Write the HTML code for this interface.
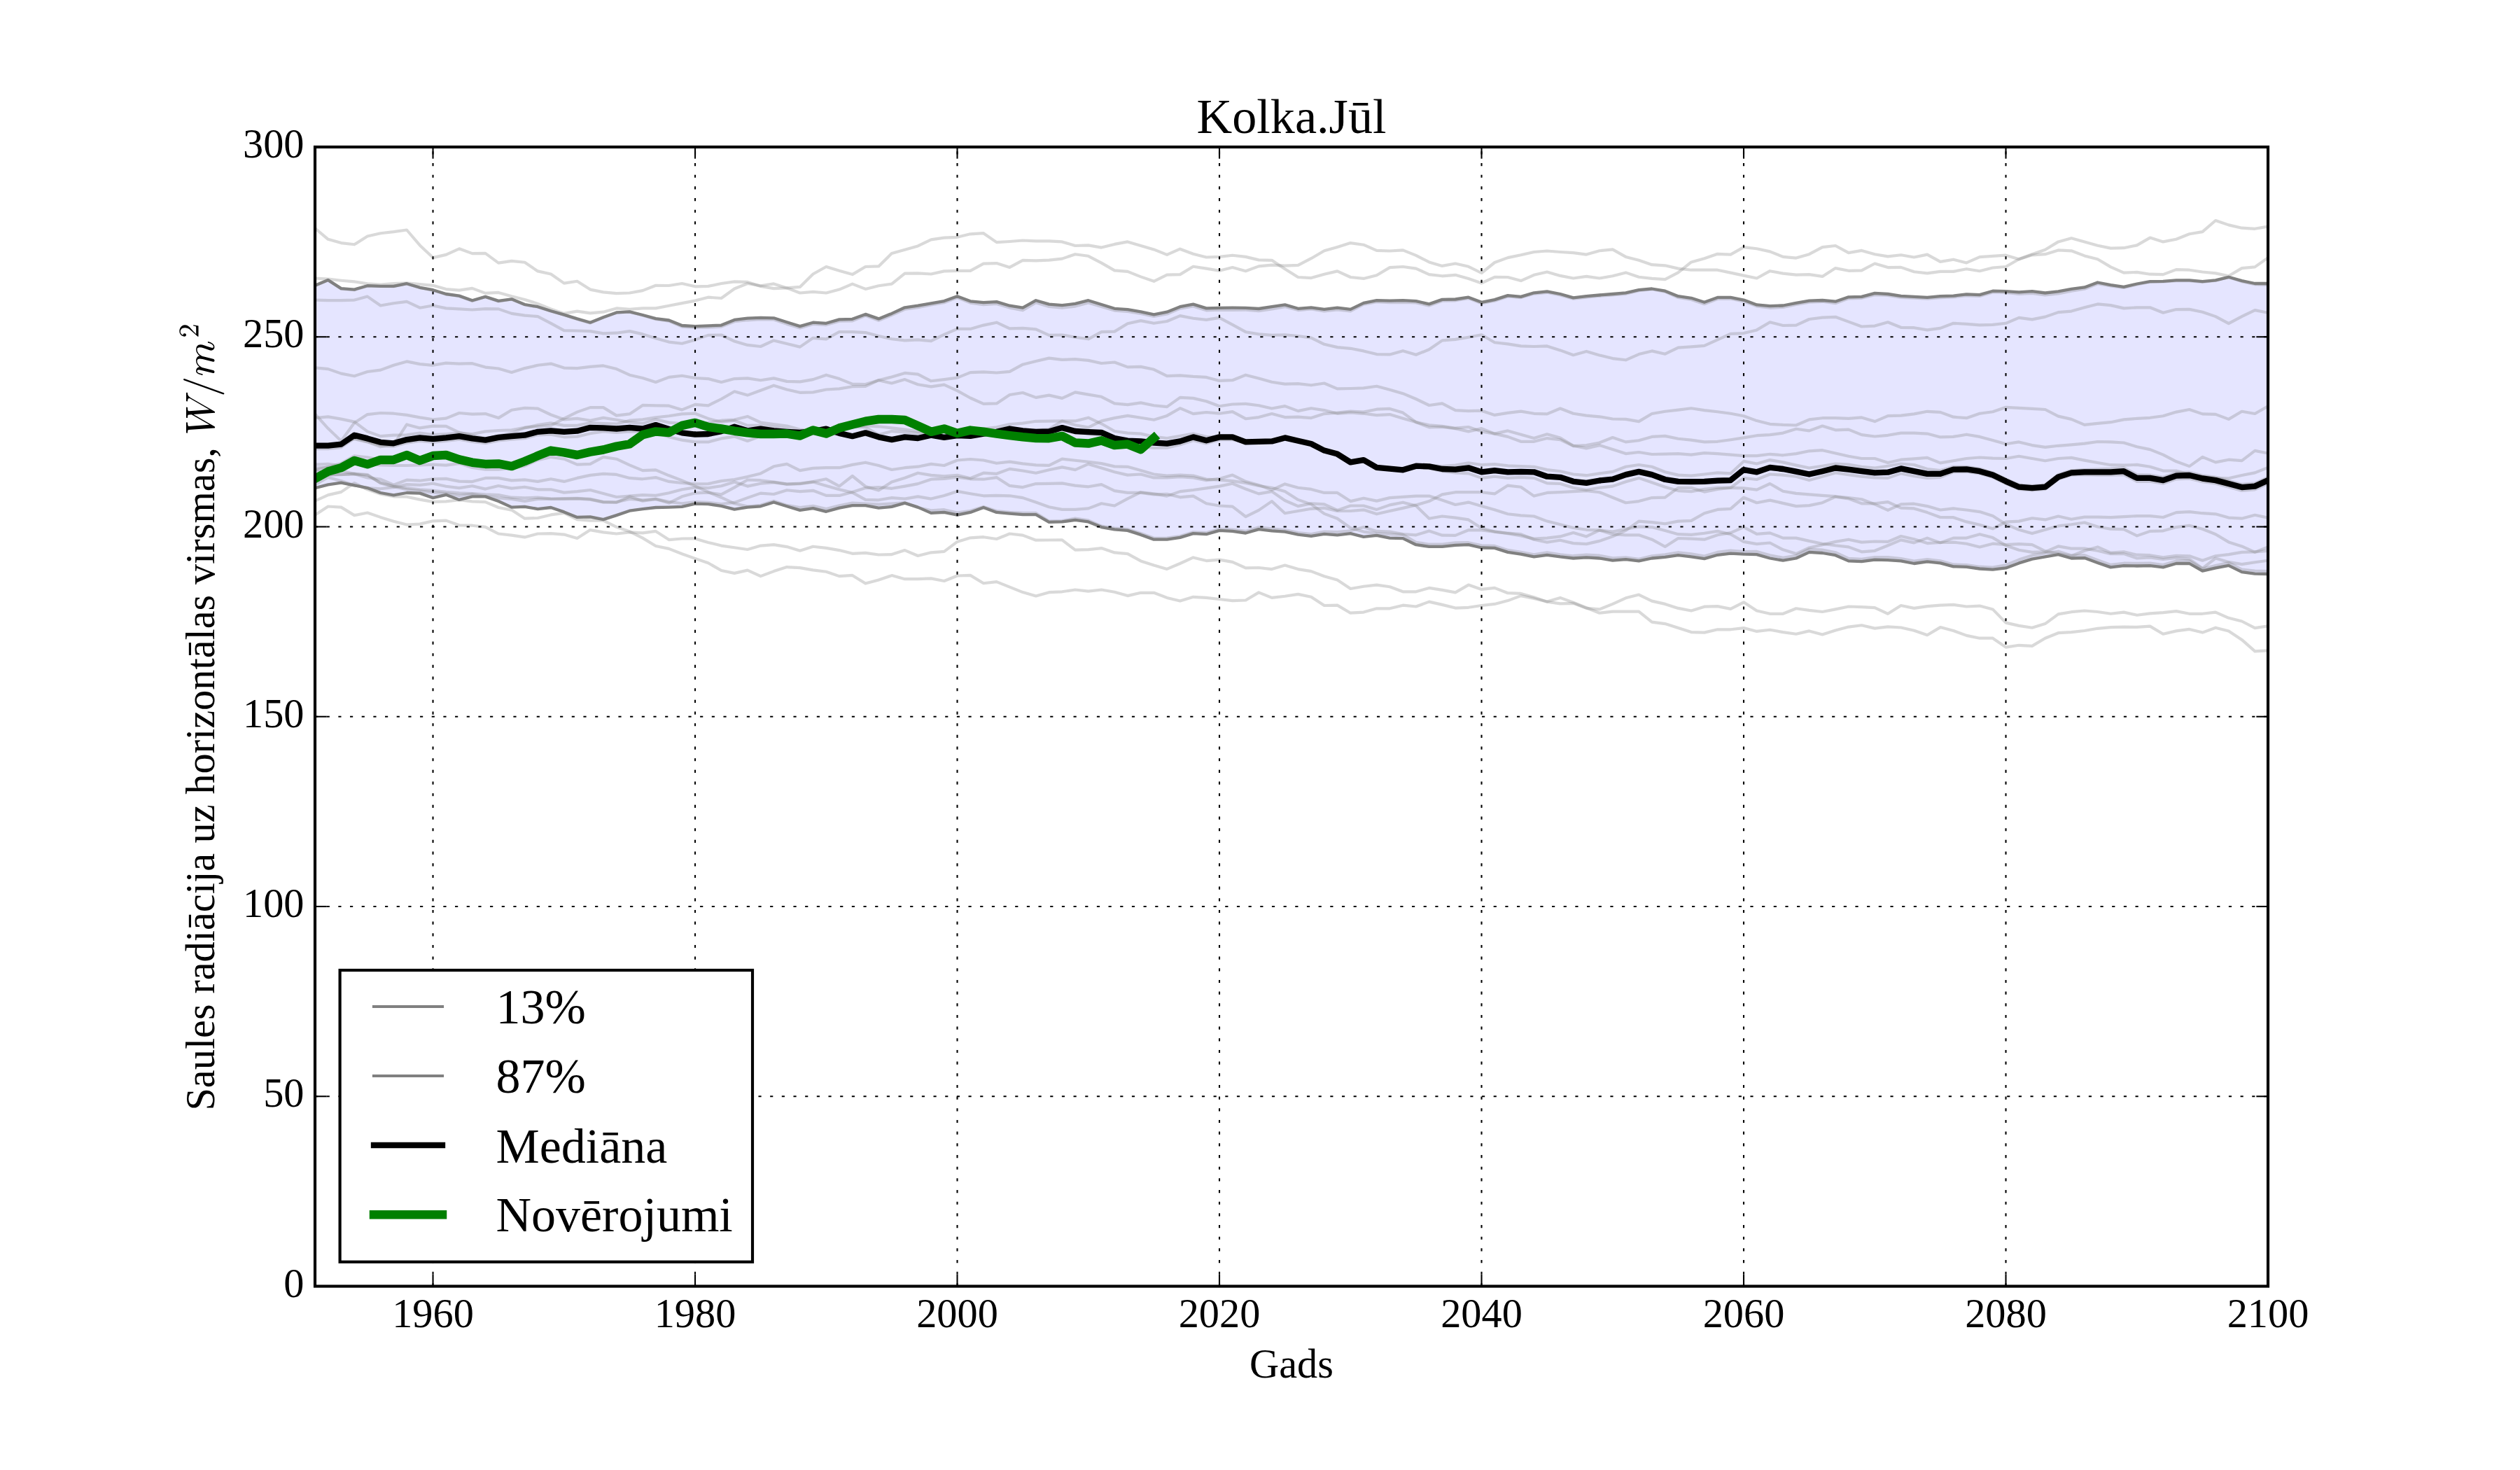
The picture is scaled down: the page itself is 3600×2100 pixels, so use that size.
<!DOCTYPE html><html><head><meta charset="utf-8"><title>Kolka.Jūl</title>
<style>html,body{margin:0;padding:0;background:#fff}svg{display:block}text{font-family:"Liberation Serif",serif;fill:#000}</style></head><body>
<svg width="3600" height="2100" viewBox="0 0 3600 2100">
<rect width="3600" height="2100" fill="#fff"/>
<defs><clipPath id="ax"><rect x="450.0" y="210.0" width="2790.0" height="1627.5"/></clipPath></defs>
<g clip-path="url(#ax)">
<polygon points="450.0,407.8 468.7,400.1 487.4,412.1 506.2,413.6 524.9,408.2 543.6,408.9 562.3,408.9 581.1,405.2 599.8,410.8 618.5,414.2 637.2,420.0 656.0,422.6 674.7,429.2 693.4,423.9 712.1,429.9 730.9,427.3 749.6,435.0 768.3,438.2 787.0,444.2 805.8,449.6 824.5,455.4 843.2,460.7 861.9,453.2 880.7,446.4 899.4,445.3 918.1,450.0 936.8,455.1 955.6,457.5 974.3,465.0 993.0,466.1 1011.7,465.4 1030.5,464.6 1049.2,456.9 1067.9,454.7 1086.6,453.9 1105.4,454.3 1124.1,460.3 1142.8,466.1 1161.5,460.7 1180.3,461.8 1199.0,456.4 1217.7,455.8 1236.4,448.9 1255.2,455.4 1273.9,447.9 1292.6,439.3 1311.3,436.7 1330.1,433.3 1348.8,430.1 1367.5,423.2 1386.2,430.3 1405.0,432.2 1423.7,431.1 1442.4,436.7 1461.1,439.7 1479.9,429.2 1498.6,434.6 1517.3,436.1 1536.0,433.9 1554.8,429.2 1573.5,435.0 1592.2,440.8 1610.9,442.1 1629.7,445.3 1648.4,449.4 1667.1,445.7 1685.8,438.2 1704.6,434.6 1723.3,440.4 1742.0,439.9 1760.7,439.7 1779.5,439.9 1798.2,441.0 1816.9,438.2 1835.6,435.4 1854.4,440.8 1873.1,439.3 1891.8,441.9 1910.5,439.7 1929.3,441.9 1948.0,432.9 1966.7,429.2 1985.4,429.6 2004.2,429.2 2022.9,430.1 2041.6,434.4 2060.3,427.9 2079.1,427.5 2097.8,424.7 2116.5,431.8 2135.2,428.1 2154.0,422.1 2172.7,423.9 2191.4,418.3 2210.1,416.4 2228.9,420.0 2247.6,425.4 2266.3,423.2 2285.0,421.5 2303.8,420.0 2322.5,418.3 2341.2,414.2 2359.9,412.5 2378.7,415.7 2397.4,423.2 2416.1,425.8 2434.8,431.8 2453.6,424.9 2472.3,424.9 2491.0,428.6 2509.7,435.4 2528.5,437.1 2547.2,436.5 2565.9,432.9 2584.6,429.6 2603.4,429.0 2622.1,430.7 2640.8,424.3 2659.5,423.9 2678.3,418.9 2697.0,420.0 2715.7,422.8 2734.4,423.9 2753.2,424.9 2771.9,423.2 2790.6,422.6 2809.3,420.4 2828.1,421.1 2846.8,415.7 2865.5,416.1 2884.2,417.4 2903.0,416.1 2921.7,418.5 2940.4,416.4 2959.1,412.9 2977.9,410.4 2996.6,403.5 3015.3,407.1 3034.0,409.9 3052.8,405.5 3071.5,402.2 3090.2,401.8 3108.9,400.3 3127.7,400.3 3146.4,402.2 3165.1,400.3 3183.8,395.8 3202.6,401.1 3221.3,405.0 3240.0,405.0 3240.0,820.0 3221.3,819.6 3202.6,817.2 3183.8,807.8 3165.1,811.4 3146.4,815.7 3127.7,805.0 3108.9,805.0 3090.2,810.4 3071.5,808.2 3052.8,808.5 3034.0,808.2 3015.3,810.4 2996.6,803.9 2977.9,797.1 2959.1,797.5 2940.4,792.1 2921.7,795.4 2903.0,798.6 2884.2,804.4 2865.5,811.4 2846.8,813.6 2828.1,812.5 2809.3,809.9 2790.6,809.3 2771.9,804.4 2753.2,802.4 2734.4,805.0 2715.7,801.4 2697.0,800.1 2678.3,799.6 2659.5,802.2 2640.8,801.4 2622.1,793.2 2603.4,790.0 2584.6,788.9 2565.9,797.5 2547.2,800.7 2528.5,797.5 2509.7,792.1 2491.0,791.7 2472.3,790.6 2453.6,792.8 2434.8,798.1 2416.1,795.4 2397.4,793.2 2378.7,795.8 2359.9,797.5 2341.2,801.4 2322.5,799.2 2303.8,800.7 2285.0,797.5 2266.3,796.4 2247.6,797.5 2228.9,795.4 2210.1,792.8 2191.4,795.4 2172.7,791.7 2154.0,788.9 2135.2,782.9 2116.5,782.5 2097.8,778.2 2079.1,778.9 2060.3,780.8 2041.6,780.8 2022.9,778.2 2004.2,769.1 1985.4,768.6 1966.7,764.9 1948.0,766.9 1929.3,762.1 1910.5,764.3 1891.8,762.8 1873.1,765.8 1854.4,763.6 1835.6,759.6 1816.9,758.3 1798.2,756.1 1779.5,761.5 1760.7,758.9 1742.0,757.9 1723.3,763.2 1704.6,762.1 1685.8,767.9 1667.1,770.7 1648.4,770.7 1629.7,763.9 1610.9,757.9 1592.2,756.4 1573.5,753.1 1554.8,745.4 1536.0,742.9 1517.3,745.4 1498.6,745.8 1479.9,735.1 1461.1,735.1 1442.4,733.6 1423.7,731.9 1405.0,725.0 1386.2,731.9 1367.5,735.7 1348.8,731.9 1330.1,732.9 1311.3,724.6 1292.6,718.6 1273.9,723.9 1255.2,725.6 1236.4,722.2 1217.7,722.2 1199.0,725.6 1180.3,730.8 1161.5,726.1 1142.8,728.9 1124.1,723.3 1105.4,717.5 1086.6,723.3 1067.9,724.6 1049.2,727.6 1030.5,722.9 1011.7,720.1 993.0,719.6 974.3,723.9 955.6,724.6 936.8,725.0 918.1,727.1 899.4,729.7 880.7,736.1 861.9,742.1 843.2,738.3 824.5,738.9 805.8,731.4 787.0,725.0 768.3,727.1 749.6,723.9 730.9,724.6 712.1,716.0 693.4,709.4 674.7,709.4 656.0,713.9 637.2,706.8 618.5,711.1 599.8,704.6 581.1,704.0 562.3,707.4 543.6,704.0 524.9,697.1 506.2,693.3 487.4,689.6 468.7,692.4 450.0,697.1" fill="#0000ff" fill-opacity="0.1"/>
<polyline points="450.0,326.1 468.7,341.8 487.4,347.1 506.2,349.3 524.9,337.5 543.6,333.2 562.3,331.1 581.1,328.5 599.8,350.4 618.5,368.1 637.2,363.9 656.0,355.3 674.7,362.1 693.4,361.9 712.1,375.6 730.9,372.9 749.6,374.8 768.3,387.4 787.0,391.5 805.8,404.6 824.5,401.8 843.2,413.6 861.9,417.4 880.7,419.1 899.4,418.5 918.1,415.1 936.8,407.8 955.6,408.0 974.3,405.0 993.0,409.3 1011.7,408.9 1030.5,405.0 1049.2,402.4 1067.9,402.9 1086.6,408.9 1105.4,412.1 1124.1,411.4 1142.8,409.9 1161.5,391.5 1180.3,381.0 1199.0,386.8 1217.7,392.1 1236.4,381.0 1255.2,380.4 1273.9,362.1 1292.6,356.8 1311.3,351.4 1330.1,342.4 1348.8,339.6 1367.5,338.8 1386.2,334.3 1405.0,333.2 1423.7,346.1 1442.4,345.0 1461.1,343.5 1479.9,344.4 1498.6,344.4 1517.3,345.4 1536.0,351.0 1554.8,350.4 1573.5,353.6 1592.2,348.9 1610.9,345.4 1629.7,351.0 1648.4,356.4 1667.1,363.9 1685.8,355.7 1704.6,362.8 1723.3,367.5 1742.0,366.9 1760.7,364.7 1779.5,366.9 1798.2,371.4 1816.9,371.8 1835.6,384.2 1854.4,396.0 1873.1,397.1 1891.8,391.7 1910.5,387.4 1929.3,396.0 1948.0,397.9 1966.7,393.2 1985.4,382.1 2004.2,381.0 2022.9,383.6 2041.6,392.1 2060.3,394.3 2079.1,392.8 2097.8,398.1 2116.5,404.4 2135.2,395.8 2154.0,396.0 2172.7,401.1 2191.4,392.8 2210.1,388.5 2228.9,393.9 2247.6,397.5 2266.3,394.9 2285.0,397.5 2303.8,394.3 2322.5,389.4 2341.2,395.8 2359.9,397.9 2378.7,399.2 2397.4,389.4 2416.1,374.4 2434.8,369.2 2453.6,362.8 2472.3,363.6 2491.0,353.1 2509.7,355.3 2528.5,359.4 2547.2,366.9 2565.9,368.6 2584.6,363.2 2603.4,353.1 2622.1,351.0 2640.8,361.1 2659.5,357.9 2678.3,363.2 2697.0,366.4 2715.7,364.3 2734.4,367.5 2753.2,363.6 2771.9,373.9 2790.6,370.7 2809.3,375.4 2828.1,367.1 2846.8,365.8 2865.5,364.7 2884.2,370.3 2903.0,364.3 2921.7,363.2 2940.4,357.4 2959.1,358.3 2977.9,365.4 2996.6,370.3 3015.3,381.4 3034.0,389.6 3052.8,388.9 3071.5,391.7 3090.2,392.1 3108.9,385.1 3127.7,385.7 3146.4,388.5 3165.1,390.4 3183.8,394.3 3202.6,383.1 3221.3,381.4 3240.0,368.1" fill="none" stroke="#808080" stroke-opacity="0.3" stroke-width="4.17" stroke-linejoin="round"/>
<polyline points="450.0,397.5 468.7,398.6 487.4,400.7 506.2,402.4 524.9,405.4 543.6,406.5 562.3,405.0 581.1,404.4 599.8,406.1 618.5,407.8 637.2,413.1 656.0,414.6 674.7,411.9 693.4,418.9 712.1,417.9 730.9,423.2 749.6,427.9 768.3,433.9 787.0,441.4 805.8,447.9 824.5,444.6 843.2,447.4 861.9,445.7 880.7,440.4 899.4,441.9 918.1,440.4 936.8,440.4 955.6,436.7 974.3,433.1 993.0,429.6 1011.7,424.7 1030.5,426.0 1049.2,412.5 1067.9,405.0 1086.6,408.2 1105.4,405.4 1124.1,411.4 1142.8,418.5 1161.5,416.8 1180.3,418.5 1199.0,413.6 1217.7,405.6 1236.4,412.9 1255.2,408.2 1273.9,405.6 1292.6,390.6 1311.3,390.4 1330.1,391.5 1348.8,387.4 1367.5,386.8 1386.2,386.8 1405.0,376.7 1423.7,376.1 1442.4,381.9 1461.1,371.8 1479.9,372.4 1498.6,371.6 1517.3,369.6 1536.0,363.2 1554.8,365.8 1573.5,375.6 1592.2,386.4 1610.9,387.9 1629.7,395.4 1648.4,401.8 1667.1,392.6 1685.8,392.1 1704.6,380.8 1723.3,383.6 1742.0,386.8 1760.7,382.1 1779.5,387.2 1798.2,380.4 1816.9,378.6 1835.6,379.7 1854.4,378.9 1873.1,369.2 1891.8,358.3 1910.5,352.9 1929.3,347.1 1948.0,349.7 1966.7,357.9 1985.4,358.5 2004.2,357.4 2022.9,364.9 2041.6,374.4 2060.3,379.9 2079.1,376.5 2097.8,380.8 2116.5,390.0 2135.2,375.0 2154.0,368.1 2172.7,364.3 2191.4,360.0 2210.1,358.5 2228.9,360.0 2247.6,361.1 2266.3,363.6 2285.0,358.3 2303.8,356.4 2322.5,366.9 2341.2,371.8 2359.9,378.2 2378.7,379.3 2397.4,383.6 2416.1,385.7 2434.8,385.7 2453.6,385.7 2472.3,389.6 2491.0,393.6 2509.7,397.5 2528.5,387.2 2547.2,390.6 2565.9,392.6 2584.6,392.1 2603.4,394.9 2622.1,383.1 2640.8,386.8 2659.5,386.4 2678.3,376.5 2697.0,382.1 2715.7,381.9 2734.4,388.3 2753.2,390.4 2771.9,387.9 2790.6,387.9 2809.3,384.2 2828.1,387.2 2846.8,382.5 2865.5,381.0 2884.2,370.3 2903.0,363.2 2921.7,356.8 2940.4,345.4 2959.1,340.3 2977.9,345.6 2996.6,350.8 3015.3,354.6 3034.0,354.2 3052.8,350.4 3071.5,339.6 3090.2,345.4 3108.9,341.8 3127.7,334.3 3146.4,331.1 3165.1,315.0 3183.8,321.4 3202.6,325.7 3221.3,326.8 3240.0,323.6" fill="none" stroke="#808080" stroke-opacity="0.3" stroke-width="4.17" stroke-linejoin="round"/>
<polyline points="450.0,428.6 468.7,429.2 487.4,429.2 506.2,428.6 524.9,423.6 543.6,436.5 562.3,433.3 581.1,430.9 599.8,439.7 618.5,436.5 637.2,440.4 656.0,441.4 674.7,442.5 693.4,441.2 712.1,441.4 730.9,447.9 749.6,450.6 768.3,452.1 787.0,461.8 805.8,472.1 824.5,472.5 843.2,473.1 861.9,476.4 880.7,475.7 899.4,473.1 918.1,477.4 936.8,483.2 955.6,488.6 974.3,490.7 993.0,485.4 1011.7,478.9 1030.5,478.5 1049.2,487.5 1067.9,492.9 1086.6,495.0 1105.4,486.4 1124.1,491.1 1142.8,495.6 1161.5,482.8 1180.3,484.3 1199.0,474.0 1217.7,474.2 1236.4,475.1 1255.2,480.0 1273.9,484.3 1292.6,486.4 1311.3,485.4 1330.1,487.1 1348.8,477.9 1367.5,469.9 1386.2,469.9 1405.0,464.6 1423.7,460.7 1442.4,469.3 1461.1,468.9 1479.9,470.4 1498.6,478.9 1517.3,478.5 1536.0,481.7 1554.8,484.3 1573.5,474.2 1592.2,473.6 1610.9,462.2 1629.7,458.1 1648.4,461.8 1667.1,459.0 1685.8,451.1 1704.6,454.7 1723.3,456.9 1742.0,453.9 1760.7,463.9 1779.5,474.2 1798.2,477.4 1816.9,478.9 1835.6,478.3 1854.4,480.0 1873.1,482.6 1891.8,491.8 1910.5,496.1 1929.3,497.8 1948.0,501.4 1966.7,506.1 1985.4,506.4 2004.2,501.2 2022.9,506.8 2041.6,499.3 2060.3,486.4 2079.1,484.9 2097.8,481.7 2116.5,478.3 2135.2,489.2 2154.0,491.4 2172.7,494.4 2191.4,495.0 2210.1,494.4 2228.9,500.4 2247.6,507.2 2266.3,501.9 2285.0,507.4 2303.8,512.1 2322.5,514.3 2341.2,506.1 2359.9,501.4 2378.7,505.7 2397.4,496.7 2416.1,495.4 2434.8,493.9 2453.6,485.4 2472.3,476.8 2491.0,476.1 2509.7,471.4 2528.5,460.3 2547.2,465.0 2565.9,464.6 2584.6,456.0 2603.4,453.6 2622.1,452.8 2640.8,459.6 2659.5,466.5 2678.3,465.6 2697.0,460.3 2715.7,467.8 2734.4,468.2 2753.2,471.4 2771.9,468.9 2790.6,461.8 2809.3,462.9 2828.1,464.4 2846.8,463.9 2865.5,461.8 2884.2,453.9 2903.0,456.4 2921.7,452.6 2940.4,446.1 2959.1,444.6 2977.9,439.3 2996.6,434.4 3015.3,436.1 3034.0,440.4 3052.8,439.3 3071.5,439.3 3090.2,446.8 3108.9,442.1 3127.7,441.9 3146.4,445.7 3165.1,452.1 3183.8,462.2 3202.6,452.1 3221.3,443.1 3240.0,446.8" fill="none" stroke="#808080" stroke-opacity="0.3" stroke-width="4.17" stroke-linejoin="round"/>
<polyline points="450.0,525.4 468.7,527.1 487.4,533.6 506.2,537.2 524.9,531.0 543.6,528.6 562.3,521.8 581.1,516.4 599.8,520.1 618.5,521.8 637.2,518.6 656.0,519.6 674.7,519.2 693.4,524.6 712.1,526.5 730.9,531.9 749.6,526.1 768.3,521.8 787.0,519.6 805.8,525.6 824.5,526.1 843.2,523.9 861.9,522.4 880.7,527.1 899.4,535.7 918.1,540.0 936.8,546.0 955.6,538.9 974.3,536.8 993.0,540.0 1011.7,541.1 1030.5,546.0 1049.2,541.1 1067.9,540.4 1086.6,543.2 1105.4,540.4 1124.1,544.9 1142.8,545.4 1161.5,542.1 1180.3,535.7 1199.0,541.1 1217.7,548.6 1236.4,549.0 1255.2,543.2 1273.9,547.5 1292.6,542.1 1311.3,549.2 1330.1,552.4 1348.8,549.6 1367.5,558.2 1386.2,568.5 1405.0,576.9 1423.7,576.4 1442.4,564.0 1461.1,561.0 1479.9,567.9 1498.6,564.6 1517.3,568.9 1536.0,560.4 1554.8,563.6 1573.5,566.8 1592.2,576.4 1610.9,578.1 1629.7,575.4 1648.4,579.2 1667.1,581.1 1685.8,567.9 1704.6,568.9 1723.3,573.2 1742.0,580.3 1760.7,577.5 1779.5,576.9 1798.2,579.2 1816.9,583.5 1835.6,580.1 1854.4,587.1 1873.1,583.3 1891.8,586.1 1910.5,590.8 1929.3,589.3 1948.0,590.8 1966.7,593.1 1985.4,592.1 2004.2,597.8 2022.9,603.1 2041.6,607.4 2060.3,608.9 2079.1,611.7 2097.8,610.0 2116.5,616.4 2135.2,619.6 2154.0,623.9 2172.7,630.8 2191.4,630.8 2210.1,626.1 2228.9,628.2 2247.6,637.2 2266.3,636.1 2285.0,632.5 2303.8,625.0 2322.5,631.4 2341.2,629.3 2359.9,623.9 2378.7,622.9 2397.4,626.7 2416.1,628.6 2434.8,631.4 2453.6,630.8 2472.3,628.2 2491.0,625.4 2509.7,622.2 2528.5,621.1 2547.2,618.6 2565.9,612.8 2584.6,615.4 2603.4,608.5 2622.1,614.3 2640.8,613.6 2659.5,621.1 2678.3,623.5 2697.0,621.8 2715.7,618.6 2734.4,618.6 2753.2,619.6 2771.9,624.4 2790.6,623.9 2809.3,620.7 2828.1,623.9 2846.8,628.9 2865.5,634.2 2884.2,631.4 2903.0,636.1 2921.7,638.9 2940.4,636.8 2959.1,635.3 2977.9,633.6 2996.6,631.0 3015.3,631.4 3034.0,632.5 3052.8,638.3 3071.5,642.1 3090.2,649.6 3108.9,659.3 3127.7,666.1 3146.4,652.9 3165.1,660.4 3183.8,656.7 3202.6,658.2 3221.3,643.9 3240.0,647.5" fill="none" stroke="#808080" stroke-opacity="0.3" stroke-width="4.17" stroke-linejoin="round"/>
<polyline points="450.0,735.7 468.7,723.5 487.4,724.6 506.2,736.1 524.9,732.5 543.6,738.9 562.3,744.7 581.1,749.6 599.8,748.6 618.5,744.3 637.2,743.6 656.0,750.3 674.7,750.7 693.4,752.9 712.1,762.5 730.9,764.6 749.6,767.4 768.3,762.5 787.0,762.1 805.8,763.6 824.5,768.9 843.2,757.1 861.9,760.4 880.7,762.5 899.4,760.4 918.1,761.4 936.8,758.9 955.6,771.1 974.3,769.5 993.0,769.4 1011.7,774.9 1030.5,779.6 1049.2,782.2 1067.9,785.0 1086.6,779.6 1105.4,778.1 1124.1,781.1 1142.8,786.7 1161.5,780.7 1180.3,782.9 1199.0,786.1 1217.7,790.8 1236.4,789.9 1255.2,792.5 1273.9,792.1 1292.6,786.1 1311.3,794.0 1330.1,789.3 1348.8,787.8 1367.5,773.9 1386.2,768.3 1405.0,767.2 1423.7,770.0 1442.4,762.5 1461.1,764.6 1479.9,771.7 1498.6,771.5 1517.3,771.4 1536.0,785.7 1554.8,785.1 1573.5,783.1 1592.2,789.4 1610.9,791.1 1629.7,801.4 1648.4,807.6 1667.1,812.9 1685.8,805.0 1704.6,796.4 1723.3,801.1 1742.0,799.6 1760.7,802.9 1779.5,811.4 1798.2,811.0 1816.9,813.1 1835.6,807.6 1854.4,813.1 1873.1,816.1 1891.8,823.2 1910.5,828.6 1929.3,841.0 1948.0,837.8 1966.7,835.6 1985.4,838.2 2004.2,845.3 2022.9,845.3 2041.6,839.9 2060.3,842.9 2079.1,846.4 2097.8,835.6 2116.5,841.9 2135.2,839.9 2154.0,847.2 2172.7,847.9 2191.4,853.2 2210.1,859.6 2228.9,862.4 2247.6,861.8 2266.3,868.9 2285.0,870.4 2303.8,862.9 2322.5,854.3 2341.2,849.6 2359.9,858.6 2378.7,862.9 2397.4,868.9 2416.1,872.5 2434.8,866.7 2453.6,866.1 2472.3,869.9 2491.0,860.3 2509.7,872.5 2528.5,876.8 2547.2,876.8 2565.9,869.3 2584.6,871.9 2603.4,874.0 2622.1,870.4 2640.8,866.5 2659.5,867.1 2678.3,868.2 2697.0,876.8 2715.7,865.0 2734.4,868.9 2753.2,866.1 2771.9,864.6 2790.6,863.9 2809.3,866.5 2828.1,865.6 2846.8,870.4 2865.5,889.6 2884.2,893.9 2903.0,896.7 2921.7,891.1 2940.4,877.4 2959.1,874.2 2977.9,872.5 2996.6,874.0 3015.3,876.8 3034.0,874.6 3052.8,878.7 3071.5,876.4 3090.2,875.1 3108.9,873.1 3127.7,876.8 3146.4,876.8 3165.1,874.6 3183.8,882.8 3202.6,887.5 3221.3,897.1 3240.0,894.4" fill="none" stroke="#808080" stroke-opacity="0.3" stroke-width="4.17" stroke-linejoin="round"/>
<polyline points="450.0,591.4 468.7,612.1 487.4,630.0 506.2,604.0 524.9,592.1 543.6,590.0 562.3,590.7 581.1,592.9 599.8,596.4 618.5,599.3 637.2,597.6 656.0,590.0 674.7,591.7 693.4,591.1 712.1,597.1 730.9,585.7 749.6,582.9 768.3,583.6 787.0,592.5 805.8,599.3 824.5,597.9 843.2,600.7 861.9,596.9 880.7,599.7 899.4,603.1 918.1,605.0 936.8,599.3 955.6,603.6 974.3,605.0 993.0,605.7 1011.7,603.9 1030.5,600.7 1049.2,599.6 1067.9,594.9 1086.6,603.5 1105.4,606.1 1124.1,608.6 1142.8,613.6 1161.5,615.3 1180.3,616.8 1199.0,611.4 1217.7,609.3 1236.4,610.4 1255.2,621.1 1273.9,616.1 1292.6,617.4 1311.3,618.9 1330.1,622.1 1348.8,616.8 1367.5,620.0 1386.2,617.9 1405.0,618.9 1423.7,621.1 1442.4,617.9 1461.1,616.1 1479.9,614.6 1498.6,613.0 1517.3,601.4 1536.0,607.2 1554.8,610.6 1573.5,601.4 1592.2,597.1 1610.9,593.9 1629.7,596.7 1648.4,599.7 1667.1,593.9 1685.8,583.2 1704.6,591.1 1723.3,589.0 1742.0,590.7 1760.7,588.1 1779.5,598.2 1798.2,596.1 1816.9,591.1 1835.6,596.1 1854.4,595.6 1873.1,597.1 1891.8,591.1 1910.5,589.6 1929.3,587.5 1948.0,588.6 1966.7,584.7 1985.4,583.9 2004.2,589.6 2022.9,603.1 2041.6,610.4 2060.3,610.0 2079.1,612.1 2097.8,616.4 2116.5,612.1 2135.2,619.6 2154.0,615.4 2172.7,620.7 2191.4,626.1 2210.1,620.3 2228.9,625.6 2247.6,636.8 2266.3,640.4 2285.0,636.1 2303.8,642.1 2322.5,648.1 2341.2,646.0 2359.9,649.0 2378.7,648.6 2397.4,648.1 2416.1,649.6 2434.8,647.1 2453.6,648.1 2472.3,649.6 2491.0,651.1 2509.7,651.1 2528.5,648.8 2547.2,650.3 2565.9,648.1 2584.6,644.3 2603.4,643.2 2622.1,647.5 2640.8,651.8 2659.5,655.0 2678.3,655.0 2697.0,661.0 2715.7,656.7 2734.4,655.4 2753.2,653.9 2771.9,661.4 2790.6,658.2 2809.3,655.0 2828.1,653.5 2846.8,654.6 2865.5,655.0 2884.2,651.8 2903.0,655.0 2921.7,658.2 2940.4,655.0 2959.1,653.9 2977.9,657.6 2996.6,661.0 3015.3,664.2 3034.0,664.6 3052.8,663.9 3071.5,666.8 3090.2,672.6 3108.9,672.6 3127.7,677.5 3146.4,680.7 3165.1,682.9 3183.8,683.3 3202.6,679.0 3221.3,675.4 3240.0,667.9" fill="none" stroke="#808080" stroke-opacity="0.3" stroke-width="4.17" stroke-linejoin="round"/>
<polyline points="450.0,597.1 468.7,595.4 487.4,598.6 506.2,602.6 524.9,616.4 543.6,623.1 562.3,621.7 581.1,621.4 599.8,618.6 618.5,621.1 637.2,620.0 656.0,618.6 674.7,620.0 693.4,616.4 712.1,615.0 730.9,614.3 749.6,610.7 768.3,609.3 787.0,607.9 805.8,597.9 824.5,588.6 843.2,582.1 861.9,582.1 880.7,593.6 899.4,591.4 918.1,578.9 936.8,579.3 955.6,579.7 974.3,585.4 993.0,577.9 1011.7,579.3 1030.5,570.0 1049.2,559.3 1067.9,564.6 1086.6,557.8 1105.4,550.7 1124.1,556.5 1142.8,560.8 1161.5,560.4 1180.3,556.5 1199.0,555.4 1217.7,552.2 1236.4,551.8 1255.2,543.2 1273.9,538.5 1292.6,532.9 1311.3,534.6 1330.1,544.3 1348.8,542.1 1367.5,539.6 1386.2,532.1 1405.0,531.4 1423.7,532.5 1442.4,530.8 1461.1,520.7 1479.9,516.0 1498.6,511.6 1517.3,513.9 1536.0,513.2 1554.8,514.9 1573.5,519.0 1592.2,517.5 1610.9,524.4 1629.7,523.9 1648.4,527.8 1667.1,537.2 1685.8,536.4 1704.6,537.9 1723.3,538.9 1742.0,543.9 1760.7,543.2 1779.5,535.7 1798.2,540.6 1816.9,545.8 1835.6,548.6 1854.4,548.1 1873.1,550.3 1891.8,547.5 1910.5,555.4 1929.3,555.0 1948.0,554.4 1966.7,551.8 1985.4,556.7 2004.2,562.2 2022.9,570.0 2041.6,579.0 2060.3,576.4 2079.1,586.1 2097.8,587.1 2116.5,586.7 2135.2,592.9 2154.0,589.9 2172.7,587.6 2191.4,590.8 2210.1,591.4 2228.9,583.5 2247.6,590.8 2266.3,593.6 2285.0,595.3 2303.8,598.5 2322.5,598.9 2341.2,602.1 2359.9,591.0 2378.7,587.8 2397.4,585.6 2416.1,583.3 2434.8,586.1 2453.6,588.2 2472.3,590.8 2491.0,594.2 2509.7,601.1 2528.5,605.8 2547.2,606.9 2565.9,607.5 2584.6,599.4 2603.4,597.2 2622.1,597.2 2640.8,597.9 2659.5,596.4 2678.3,602.1 2697.0,594.2 2715.7,593.6 2734.4,591.4 2753.2,587.8 2771.9,588.9 2790.6,595.7 2809.3,597.2 2828.1,590.8 2846.8,588.2 2865.5,581.8 2884.2,582.9 2903.0,583.9 2921.7,585.0 2940.4,594.6 2959.1,598.9 2977.9,606.9 2996.6,604.9 3015.3,603.2 3034.0,599.4 3052.8,597.9 3071.5,596.8 3090.2,594.2 3108.9,588.6 3127.7,585.0 3146.4,591.4 3165.1,591.9 3183.8,598.9 3202.6,587.8 3221.3,591.0 3240.0,580.3" fill="none" stroke="#808080" stroke-opacity="0.3" stroke-width="4.17" stroke-linejoin="round"/>
<polyline points="450.0,636.4 468.7,636.4 487.4,632.9 506.2,627.1 524.9,631.4 543.6,638.3 562.3,635.4 581.1,606.4 599.8,611.4 618.5,608.6 637.2,608.9 656.0,617.9 674.7,622.1 693.4,626.4 712.1,622.9 730.9,618.6 749.6,611.4 768.3,607.1 787.0,604.3 805.8,607.9 824.5,607.9 843.2,604.0 861.9,605.0 880.7,605.7 899.4,600.7 918.1,599.3 936.8,596.4 955.6,594.3 974.3,591.4 993.0,590.7 1011.7,597.9 1030.5,602.9 1049.2,600.7 1067.9,607.9 1086.6,607.5 1105.4,610.0 1124.1,612.7 1142.8,618.9 1161.5,615.3 1180.3,617.9 1199.0,613.6 1217.7,610.4 1236.4,608.2 1255.2,609.3 1273.9,611.4 1292.6,613.6 1311.3,616.1 1330.1,617.9 1348.8,616.1 1367.5,620.0 1386.2,616.1 1405.0,612.5 1423.7,610.4 1442.4,606.1 1461.1,604.6 1479.9,601.8 1498.6,601.6 1517.3,601.4 1536.0,601.4 1554.8,596.7 1573.5,605.3 1592.2,616.0 1610.9,618.6 1629.7,619.6 1648.4,623.9 1667.1,626.1 1685.8,622.9 1704.6,619.6 1723.3,623.9 1742.0,624.4 1760.7,624.4 1779.5,631.4 1798.2,630.8 1816.9,630.4 1835.6,625.4 1854.4,629.7 1873.1,634.0 1891.8,643.6 1910.5,648.6 1929.3,660.4 1948.0,657.1 1966.7,667.9 1985.4,669.6 2004.2,670.5 2022.9,664.6 2041.6,664.6 2060.3,666.1 2079.1,664.6 2097.8,661.4 2116.5,664.0 2135.2,663.1 2154.0,665.3 2172.7,666.1 2191.4,666.8 2210.1,671.1 2228.9,673.2 2247.6,677.5 2266.3,679.2 2285.0,676.4 2303.8,673.9 2322.5,666.8 2341.2,664.0 2359.9,666.8 2378.7,674.3 2397.4,678.6 2416.1,679.6 2434.8,677.5 2453.6,675.4 2472.3,676.4 2491.0,658.9 2509.7,662.5 2528.5,657.1 2547.2,660.4 2565.9,664.6 2584.6,668.5 2603.4,665.7 2622.1,662.5 2640.8,663.6 2659.5,666.8 2678.3,668.5 2697.0,665.7 2715.7,662.5 2734.4,664.0 2753.2,670.0 2771.9,672.1 2790.6,666.8 2809.3,666.8 2828.1,669.6 2846.8,675.4 2865.5,684.4 2884.2,692.5 2903.0,694.0 2921.7,692.5 2940.4,678.1 2959.1,672.1 2977.9,671.1 2996.6,670.4 3015.3,669.6 3034.0,668.3 3052.8,678.0 3071.5,678.6 3090.2,681.8 3108.9,675.4 3127.7,674.7 3146.4,679.2 3165.1,681.8 3183.8,686.7 3202.6,691.9 3221.3,690.4 3240.0,681.8" fill="none" stroke="#808080" stroke-opacity="0.3" stroke-width="4.17" stroke-linejoin="round"/>
<polyline points="450.0,663.6 468.7,662.9 487.4,665.4 506.2,661.4 524.9,662.9 543.6,664.3 562.3,665.0 581.1,665.0 599.8,664.3 618.5,663.6 637.2,664.6 656.0,662.1 674.7,667.9 693.4,670.7 712.1,670.7 730.9,668.6 749.6,665.7 768.3,657.1 787.0,652.9 805.8,655.7 824.5,663.6 843.2,662.9 861.9,652.9 880.7,655.7 899.4,664.3 918.1,672.1 936.8,671.4 955.6,679.3 974.3,686.4 993.0,694.3 1011.7,702.9 1030.5,710.7 1049.2,719.3 1067.9,723.6 1086.6,721.7 1105.4,715.7 1124.1,721.9 1142.8,725.0 1161.5,722.9 1180.3,727.1 1199.0,722.2 1217.7,718.6 1236.4,719.6 1255.2,720.7 1273.9,719.6 1292.6,718.1 1311.3,725.0 1330.1,729.3 1348.8,728.2 1367.5,732.5 1386.2,729.7 1405.0,723.9 1423.7,730.1 1442.4,731.9 1461.1,732.9 1479.9,732.9 1498.6,744.5 1517.3,744.1 1536.0,740.6 1554.8,743.3 1573.5,751.6 1592.2,754.6 1610.9,756.1 1629.7,761.9 1648.4,768.8 1667.1,768.5 1685.8,766.0 1704.6,760.3 1723.3,761.2 1742.0,755.7 1760.7,756.6 1779.5,758.9 1798.2,753.3 1816.9,755.4 1835.6,757.0 1854.4,761.0 1873.1,763.1 1891.8,759.6 1910.5,760.0 1929.3,758.3 1948.0,753.1 1966.7,758.9 1985.4,759.6 2004.2,763.0 2022.9,764.3 2041.6,758.5 2060.3,764.7 2079.1,764.9 2097.8,757.2 2116.5,757.4 2135.2,759.6 2154.0,762.1 2172.7,765.4 2191.4,769.6 2210.1,768.6 2228.9,766.4 2247.6,761.1 2266.3,766.4 2285.0,757.4 2303.8,759.6 2322.5,755.7 2341.2,752.5 2359.9,753.1 2378.7,757.9 2397.4,763.2 2416.1,763.9 2434.8,761.7 2453.6,758.9 2472.3,763.2 2491.0,773.9 2509.7,777.1 2528.5,775.5 2547.2,785.3 2565.9,791.1 2584.6,782.5 2603.4,778.2 2622.1,773.9 2640.8,770.7 2659.5,774.6 2678.3,773.5 2697.0,773.9 2715.7,766.0 2734.4,770.3 2753.2,776.1 2771.9,775.0 2790.6,774.6 2809.3,776.7 2828.1,781.4 2846.8,776.7 2865.5,778.2 2884.2,777.1 2903.0,778.2 2921.7,787.4 2940.4,791.1 2959.1,794.3 2977.9,786.8 2996.6,781.4 3015.3,789.6 3034.0,788.3 3052.8,792.7 3071.5,793.2 3090.2,796.4 3108.9,793.9 3127.7,794.3 3146.4,800.7 3165.1,794.3 3183.8,792.1 3202.6,788.9 3221.3,788.3 3240.0,786.8" fill="none" stroke="#808080" stroke-opacity="0.3" stroke-width="4.17" stroke-linejoin="round"/>
<polyline points="450.0,671.4 468.7,678.1 487.4,678.1 506.2,676.7 524.9,678.1 543.6,690.3 562.3,695.3 581.1,699.3 599.8,701.4 618.5,703.6 637.2,705.0 656.0,707.9 674.7,705.7 693.4,709.3 712.1,711.4 730.9,712.9 749.6,716.0 768.3,712.9 787.0,712.9 805.8,712.1 824.5,711.9 843.2,712.9 861.9,717.1 880.7,717.9 899.4,709.3 918.1,715.7 936.8,712.9 955.6,718.6 974.3,709.3 993.0,704.3 1011.7,703.6 1030.5,706.4 1049.2,696.4 1067.9,685.5 1086.6,686.2 1105.4,688.6 1124.1,691.6 1142.8,691.1 1161.5,688.6 1180.3,693.9 1199.0,699.3 1217.7,703.6 1236.4,713.9 1255.2,714.3 1273.9,711.1 1292.6,712.6 1311.3,709.4 1330.1,712.6 1348.8,707.9 1367.5,701.9 1386.2,705.3 1405.0,708.3 1423.7,707.9 1442.4,708.3 1461.1,711.1 1479.9,717.5 1498.6,724.3 1517.3,727.9 1536.0,727.9 1554.8,726.4 1573.5,719.3 1592.2,722.5 1610.9,712.4 1629.7,703.2 1648.4,705.4 1667.1,708.6 1685.8,702.1 1704.6,700.0 1723.3,697.4 1742.0,694.6 1760.7,690.8 1779.5,698.5 1798.2,705.4 1816.9,702.1 1835.6,715.0 1854.4,723.1 1873.1,719.3 1891.8,720.4 1910.5,728.9 1929.3,722.5 1948.0,722.5 1966.7,727.9 1985.4,721.4 2004.2,717.7 2022.9,722.5 2041.6,740.7 2060.3,737.5 2079.1,739.6 2097.8,742.4 2116.5,754.6 2135.2,759.6 2154.0,761.7 2172.7,763.2 2191.4,770.7 2210.1,774.6 2228.9,771.8 2247.6,776.1 2266.3,777.1 2285.0,772.9 2303.8,766.4 2322.5,757.9 2341.2,744.6 2359.9,746.1 2378.7,748.2 2397.4,744.6 2416.1,743.9 2434.8,733.2 2453.6,727.9 2472.3,726.8 2491.0,710.7 2509.7,718.2 2528.5,714.6 2547.2,718.9 2565.9,723.1 2584.6,722.1 2603.4,718.2 2622.1,709.6 2640.8,712.4 2659.5,719.3 2678.3,719.3 2697.0,717.1 2715.7,725.7 2734.4,726.4 2753.2,732.1 2771.9,739.0 2790.6,739.2 2809.3,745.4 2828.1,749.7 2846.8,755.3 2865.5,745.6 2884.2,744.6 2903.0,740.3 2921.7,742.4 2940.4,737.5 2959.1,741.8 2977.9,738.6 2996.6,738.6 3015.3,739.2 3034.0,738.1 3052.8,737.1 3071.5,737.1 3090.2,739.0 3108.9,732.1 3127.7,731.1 3146.4,733.2 3165.1,734.3 3183.8,739.6 3202.6,740.7 3221.3,735.8 3240.0,739.6" fill="none" stroke="#808080" stroke-opacity="0.3" stroke-width="4.17" stroke-linejoin="round"/>
<polyline points="450.0,681.9 468.7,678.6 487.4,677.6 506.2,677.3 524.9,679.0 543.6,689.6 562.3,694.3 581.1,697.1 599.8,699.3 618.5,700.7 637.2,702.9 656.0,704.3 674.7,705.0 693.4,706.4 712.1,707.1 730.9,710.7 749.6,711.4 768.3,710.7 787.0,712.5 805.8,712.9 824.5,712.4 843.2,713.6 861.9,717.4 880.7,717.1 899.4,712.9 918.1,714.3 936.8,712.9 955.6,716.9 974.3,719.3 993.0,717.1 1011.7,717.9 1030.5,720.0 1049.2,717.9 1067.9,711.1 1086.6,704.6 1105.4,706.0 1124.1,700.2 1142.8,702.1 1161.5,700.8 1180.3,707.9 1199.0,707.9 1217.7,703.1 1236.4,697.1 1255.2,696.1 1273.9,697.8 1292.6,694.6 1311.3,691.1 1330.1,684.7 1348.8,683.9 1367.5,681.7 1386.2,684.3 1405.0,684.7 1423.7,682.1 1442.4,693.9 1461.1,696.1 1479.9,691.1 1498.6,690.9 1517.3,690.4 1536.0,693.6 1554.8,695.3 1573.5,692.1 1592.2,701.1 1610.9,703.9 1629.7,703.9 1648.4,706.4 1667.1,705.8 1685.8,710.3 1704.6,708.6 1723.3,719.3 1742.0,722.5 1760.7,723.6 1779.5,738.1 1798.2,728.9 1816.9,716.1 1835.6,733.2 1854.4,730.0 1873.1,726.8 1891.8,725.7 1910.5,730.0 1929.3,730.0 1948.0,728.3 1966.7,734.3 1985.4,730.0 2004.2,725.9 2022.9,721.4 2041.6,716.1 2060.3,706.4 2079.1,703.2 2097.8,703.2 2116.5,703.2 2135.2,705.4 2154.0,693.6 2172.7,695.7 2191.4,708.6 2210.1,703.9 2228.9,703.2 2247.6,702.1 2266.3,701.1 2285.0,703.2 2303.8,710.7 2322.5,718.2 2341.2,716.1 2359.9,711.1 2378.7,710.7 2397.4,696.8 2416.1,696.8 2434.8,702.6 2453.6,698.9 2472.3,696.8 2491.0,697.4 2509.7,699.6 2528.5,691.0 2547.2,701.7 2565.9,704.9 2584.6,706.4 2603.4,707.9 2622.1,709.2 2640.8,711.1 2659.5,713.3 2678.3,720.4 2697.0,728.9 2715.7,720.4 2734.4,719.7 2753.2,723.1 2771.9,728.5 2790.6,726.4 2809.3,728.5 2828.1,731.1 2846.8,737.1 2865.5,748.9 2884.2,756.8 2903.0,762.1 2921.7,756.8 2940.4,751.4 2959.1,749.3 2977.9,746.5 2996.6,752.5 3015.3,755.7 3034.0,756.1 3052.8,765.4 3071.5,758.9 3090.2,758.3 3108.9,753.1 3127.7,750.8 3146.4,755.7 3165.1,763.2 3183.8,774.4 3202.6,780.4 3221.3,788.9 3240.0,781.4" fill="none" stroke="#808080" stroke-opacity="0.3" stroke-width="4.17" stroke-linejoin="round"/>
<polyline points="450.0,668.6 468.7,667.6 487.4,672.4 506.2,677.1 524.9,682.4 543.6,684.6 562.3,692.6 581.1,685.7 599.8,686.7 618.5,684.3 637.2,683.9 656.0,687.6 674.7,688.1 693.4,682.9 712.1,682.9 730.9,686.4 749.6,685.4 768.3,687.9 787.0,684.3 805.8,687.9 824.5,682.9 843.2,678.9 861.9,676.9 880.7,677.9 899.4,682.9 918.1,684.3 936.8,682.1 955.6,687.9 974.3,690.0 993.0,691.4 1011.7,691.1 1030.5,687.1 1049.2,685.0 1067.9,681.1 1086.6,676.4 1105.4,666.3 1124.1,662.9 1142.8,672.1 1161.5,668.9 1180.3,668.2 1199.0,668.2 1217.7,663.9 1236.4,660.7 1255.2,665.0 1273.9,671.0 1292.6,668.2 1311.3,666.7 1330.1,662.9 1348.8,665.0 1367.5,657.5 1386.2,656.0 1405.0,657.5 1423.7,661.8 1442.4,659.6 1461.1,662.4 1479.9,664.4 1498.6,664.8 1517.3,655.6 1536.0,657.8 1554.8,659.7 1573.5,662.1 1592.2,666.4 1610.9,666.8 1629.7,672.1 1648.4,677.5 1667.1,679.6 1685.8,678.6 1704.6,679.6 1723.3,684.6 1742.0,685.6 1760.7,687.1 1779.5,689.9 1798.2,694.0 1816.9,696.8 1835.6,702.1 1854.4,713.9 1873.1,720.4 1891.8,733.9 1910.5,740.7 1929.3,754.2 1948.0,759.6 1966.7,762.1 1985.4,763.2 2004.2,763.9 2022.9,774.7 2041.6,777.7 2060.3,777.5 2079.1,775.3 2097.8,775.2 2116.5,779.4 2135.2,779.9 2154.0,785.9 2172.7,788.8 2191.4,792.3 2210.1,789.3 2228.9,792.3 2247.6,794.2 2266.3,792.6 2285.0,793.7 2303.8,797.4 2322.5,796.3 2341.2,798.8 2359.9,794.3 2378.7,792.3 2397.4,789.2 2416.1,791.3 2434.8,794.5 2453.6,788.9 2472.3,786.5 2491.0,788.1 2509.7,787.9 2528.5,793.3 2547.2,796.7 2565.9,793.7 2584.6,784.6 2603.4,785.6 2622.1,789.2 2640.8,797.9 2659.5,798.8 2678.3,796.0 2697.0,796.0 2715.7,798.0 2734.4,801.6 2753.2,799.1 2771.9,801.2 2790.6,806.4 2809.3,807.0 2828.1,809.7 2846.8,810.6 2865.5,807.3 2884.2,799.6 2903.0,793.4 2921.7,790.3 2940.4,787.7 2959.1,793.5 2977.9,793.1 2996.6,800.2 3015.3,806.9 3034.0,804.7 3052.8,804.8 3071.5,804.6 3090.2,807.0 3108.9,801.4 3127.7,801.2 3146.4,812.5 3165.1,808.1 3183.8,803.8 3202.6,813.5 3221.3,815.5 3240.0,816.1" fill="none" stroke="#808080" stroke-opacity="0.3" stroke-width="4.17" stroke-linejoin="round"/>
<polyline points="450.0,692.4 468.7,681.9 487.4,687.0 506.2,693.3 524.9,697.0 543.6,698.3 562.3,696.1 581.1,692.1 599.8,692.9 618.5,690.7 637.2,694.7 656.0,697.1 674.7,694.3 693.4,698.6 712.1,694.0 730.9,697.6 749.6,695.7 768.3,699.3 787.0,699.3 805.8,703.6 824.5,702.1 843.2,700.0 861.9,705.0 880.7,710.0 899.4,708.6 918.1,707.1 936.8,707.9 955.6,704.3 974.3,699.3 993.0,696.4 1011.7,697.1 1030.5,694.3 1049.2,688.6 1067.9,694.6 1086.6,690.7 1105.4,689.1 1124.1,691.6 1142.8,690.7 1161.5,688.1 1180.3,684.3 1199.0,694.6 1217.7,680.0 1236.4,695.0 1255.2,700.4 1273.9,688.6 1292.6,682.8 1311.3,675.7 1330.1,678.9 1348.8,680.4 1367.5,678.9 1386.2,683.2 1405.0,675.7 1423.7,676.8 1442.4,669.9 1461.1,672.5 1479.9,675.7 1498.6,671.2 1517.3,667.4 1536.0,671.1 1554.8,662.9 1573.5,668.5 1592.2,674.3 1610.9,678.6 1629.7,677.5 1648.4,682.4 1667.1,682.4 1685.8,681.1 1704.6,682.4 1723.3,686.1 1742.0,683.9 1760.7,678.6 1779.5,687.8 1798.2,692.9 1816.9,700.0 1835.6,691.4 1854.4,696.8 1873.1,698.9 1891.8,703.9 1910.5,703.9 1929.3,716.1 1948.0,711.8 1966.7,715.6 1985.4,711.1 2004.2,709.9 2022.9,708.6 2041.6,708.6 2060.3,714.6 2079.1,721.0 2097.8,717.6 2116.5,723.1 2135.2,728.3 2154.0,734.3 2172.7,736.4 2191.4,737.5 2210.1,744.6 2228.9,749.3 2247.6,754.0 2266.3,756.8 2285.0,757.4 2303.8,763.2 2322.5,764.3 2341.2,764.3 2359.9,770.7 2378.7,781.0 2397.4,769.0 2416.1,769.6 2434.8,770.7 2453.6,764.3 2472.3,761.1 2491.0,753.1 2509.7,762.8 2528.5,761.4 2547.2,768.6 2565.9,768.6 2584.6,772.9 2603.4,776.7 2622.1,779.3 2640.8,781.4 2659.5,788.3 2678.3,786.8 2697.0,779.3 2715.7,771.4 2734.4,775.4 2753.2,768.6 2771.9,775.4 2790.6,768.6 2809.3,768.6 2828.1,763.2 2846.8,768.1 2865.5,779.3 2884.2,785.7 2903.0,788.9 2921.7,788.3 2940.4,780.4 2959.1,783.6 2977.9,783.6 2996.6,786.8 3015.3,791.1 3034.0,791.1 3052.8,797.5 3071.5,796.4 3090.2,799.0 3108.9,796.9 3127.7,798.6 3146.4,811.9 3165.1,797.5 3183.8,802.9 3202.6,806.1 3221.3,803.3 3240.0,800.7" fill="none" stroke="#808080" stroke-opacity="0.3" stroke-width="4.17" stroke-linejoin="round"/>
<polyline points="450.0,715.7 468.7,707.1 487.4,702.9 506.2,690.0 524.9,699.3 543.6,705.7 562.3,709.3 581.1,709.7 599.8,713.6 618.5,716.9 637.2,716.4 656.0,714.3 674.7,716.4 693.4,717.1 712.1,725.0 730.9,728.6 749.6,740.7 768.3,740.0 787.0,735.4 805.8,732.9 824.5,742.1 843.2,743.6 861.9,743.6 880.7,752.9 899.4,759.3 918.1,768.6 936.8,780.0 955.6,783.9 974.3,791.2 993.0,797.9 1011.7,804.3 1030.5,815.0 1049.2,818.9 1067.9,814.6 1086.6,823.1 1105.4,816.1 1124.1,810.1 1142.8,811.1 1161.5,814.4 1180.3,816.7 1199.0,823.1 1217.7,821.9 1236.4,833.6 1255.2,828.5 1273.9,822.1 1292.6,827.2 1311.3,827.2 1330.1,826.4 1348.8,830.0 1367.5,822.5 1386.2,821.9 1405.0,833.2 1423.7,831.1 1442.4,838.6 1461.1,846.1 1479.9,851.4 1498.6,846.2 1517.3,845.3 1536.0,842.5 1554.8,844.6 1573.5,842.5 1592.2,845.7 1610.9,851.1 1629.7,846.8 1648.4,846.8 1667.1,853.9 1685.8,858.6 1704.6,852.8 1723.3,853.9 1742.0,856.0 1760.7,858.1 1779.5,857.5 1798.2,846.4 1816.9,853.9 1835.6,851.7 1854.4,848.9 1873.1,852.8 1891.8,865.0 1910.5,864.6 1929.3,875.7 1948.0,874.6 1966.7,869.3 1985.4,869.3 2004.2,864.7 2022.9,866.5 2041.6,859.6 2060.3,863.9 2079.1,868.6 2097.8,867.8 2116.5,865.0 2135.2,862.9 2154.0,858.1 2172.7,851.1 2191.4,854.9 2210.1,859.6 2228.9,853.9 2247.6,860.7 2266.3,868.2 2285.0,875.7 2303.8,873.6 2322.5,873.6 2341.2,873.6 2359.9,888.6 2378.7,891.1 2397.4,897.1 2416.1,903.1 2434.8,903.6 2453.6,899.3 2472.3,899.3 2491.0,897.1 2509.7,901.9 2528.5,899.7 2547.2,903.1 2565.9,905.7 2584.6,901.4 2603.4,906.4 2622.1,900.4 2640.8,895.6 2659.5,893.3 2678.3,897.6 2697.0,895.4 2715.7,896.5 2734.4,900.8 2753.2,907.2 2771.9,896.1 2790.6,901.0 2809.3,907.9 2828.1,911.7 2846.8,911.7 2865.5,924.6 2884.2,921.8 2903.0,922.9 2921.7,911.7 2940.4,904.2 2959.1,903.1 2977.9,901.0 2996.6,897.8 3015.3,896.1 3034.0,895.6 3052.8,895.9 3071.5,894.6 3090.2,905.7 3108.9,901.4 3127.7,898.9 3146.4,903.6 3165.1,896.7 3183.8,901.4 3202.6,913.9 3221.3,930.4 3240.0,929.3" fill="none" stroke="#808080" stroke-opacity="0.3" stroke-width="4.17" stroke-linejoin="round"/>
<polyline points="450.0,671.4 468.7,667.1 487.4,661.9 506.2,651.4 524.9,653.3 543.6,657.0 562.3,656.9" fill="none" stroke="#808080" stroke-opacity="0.3" stroke-width="4.17" stroke-linejoin="round"/>
<polyline points="450.0,641.2 468.7,641.2 487.4,639.1 506.2,626.2 524.9,630.9 543.6,636.3 562.3,637.8 581.1,632.6 599.8,629.9 618.5,631.6 637.2,629.9 656.0,627.7 674.7,630.9 693.4,633.1 712.1,629.4 730.9,627.7 749.6,626.2 768.3,621.3 787.0,620.7 805.8,624.3 824.5,623.6 843.2,619.3 861.9,616.4 880.7,617.9 899.4,616.4 918.1,617.1 936.8,618.6 955.6,624.3 974.3,628.6 993.0,631.4 1011.7,631.4 1030.5,626.4 1049.2,623.6 1067.9,630.0 1086.6,623.0 1105.4,622.1 1124.1,621.1 1142.8,622.1 1161.5,620.0 1180.3,617.9 1199.0,621.1 1217.7,624.3 1236.4,621.1 1255.2,625.4 1273.9,628.6 1292.6,625.4 1311.3,626.9 1330.1,623.2 1348.8,625.4 1367.5,623.2 1386.2,623.9 1405.0,621.1 1423.7,617.9 1442.4,614.6 1461.1,616.8 1479.9,617.9 1498.6,617.5 1517.3,612.1 1536.0,617.5 1554.8,619.6 1573.5,621.8 1592.2,630.4 1610.9,634.6 1629.7,637.9 1648.4,640.0 1667.1,639.6 1685.8,635.3 1704.6,629.3 1723.3,633.6 1742.0,628.2 1760.7,628.2 1779.5,632.5 1798.2,630.8 1816.9,630.4 1835.6,625.4 1854.4,629.7 1873.1,634.0 1891.8,643.6 1910.5,648.6 1929.3,660.4 1948.0,657.1 1966.7,667.9 1985.4,669.6 2004.2,671.6 2022.9,667.9 2041.6,668.9 2060.3,673.2 2079.1,675.4 2097.8,676.4 2116.5,682.9 2135.2,680.7 2154.0,682.9 2172.7,681.8 2191.4,682.9 2210.1,690.4 2228.9,691.0 2247.6,696.8 2266.3,700.0 2285.0,696.8 2303.8,694.6 2322.5,688.2 2341.2,682.9 2359.9,689.3 2378.7,695.7 2397.4,701.1 2416.1,702.1 2434.8,698.9 2453.6,696.8 2472.3,696.8 2491.0,682.9 2509.7,685.0 2528.5,677.5 2547.2,678.6 2565.9,680.7 2584.6,686.1 2603.4,680.7 2622.1,675.4 2640.8,678.1 2659.5,680.7 2678.3,682.4 2697.0,682.9 2715.7,676.4 2734.4,680.3 2753.2,682.9 2771.9,681.8 2790.6,674.3 2809.3,673.9 2828.1,676.4 2846.8,681.8 2865.5,690.8 2884.2,698.9 2903.0,700.4 2921.7,698.9 2940.4,684.6 2959.1,678.6 2977.9,678.1 2996.6,678.6 3015.3,678.6 3034.0,678.1 3052.8,687.9 3071.5,687.6 3090.2,690.8 3108.9,684.4 3127.7,683.7 3146.4,688.2 3165.1,690.8 3183.8,695.7 3202.6,700.9 3221.3,699.4 3240.0,690.8" fill="none" stroke="#808080" stroke-opacity="0.3" stroke-width="4.17" stroke-linejoin="round"/>
<polyline points="450.0,408.3 468.7,400.1 487.4,412.7 506.2,414.2 524.9,408.4 543.6,409.0 562.3,409.1 581.1,405.3 599.8,411.0 618.5,414.6 637.2,420.4 656.0,423.0 674.7,430.1 693.4,424.1 712.1,430.5 730.9,427.5 749.6,435.4 768.3,438.4 787.0,444.4 805.8,449.7 824.5,455.9 843.2,461.4 861.9,453.6 880.7,446.7 899.4,445.5 918.1,450.5 936.8,455.9 955.6,458.6 974.3,466.7 993.0,468.0 1011.7,467.6 1030.5,466.6 1049.2,459.2 1067.9,457.3 1086.6,456.2 1105.4,456.5 1124.1,462.9 1142.8,468.6 1161.5,463.0 1180.3,464.1 1199.0,458.7 1217.7,458.4 1236.4,450.8 1255.2,457.8 1273.9,450.1 1292.6,441.8 1311.3,439.1 1330.1,435.5 1348.8,432.3 1367.5,425.1 1386.2,432.6 1405.0,435.1 1423.7,434.0 1442.4,439.6 1461.1,443.3 1479.9,432.2 1498.6,437.9 1517.3,439.6 1536.0,437.6 1554.8,432.6 1573.5,438.1 1592.2,443.6 1610.9,444.9 1629.7,447.9 1648.4,451.9 1667.1,448.5 1685.8,440.6 1704.6,437.4 1723.3,443.3 1742.0,442.7 1760.7,442.8 1779.5,442.7 1798.2,444.2 1816.9,441.4 1835.6,438.1 1854.4,443.1 1873.1,441.5 1891.8,444.5 1910.5,442.5 1929.3,444.3 1948.0,434.7 1966.7,431.1 1985.4,432.1 2004.2,431.8 2022.9,432.5 2041.6,436.6 2060.3,429.7 2079.1,429.3 2097.8,426.1 2116.5,433.2 2135.2,429.8 2154.0,423.5 2172.7,425.1 2191.4,419.6 2210.1,417.8 2228.9,421.4 2247.6,426.8 2266.3,424.7 2285.0,422.8 2303.8,421.4 2322.5,419.8 2341.2,415.2 2359.9,413.3 2378.7,416.6 2397.4,425.0 2416.1,427.9 2434.8,434.2 2453.6,427.0 2472.3,426.8 2491.0,430.4 2509.7,437.4 2528.5,439.8 2547.2,438.9 2565.9,435.0 2584.6,431.6 2603.4,430.8 2622.1,433.2 2640.8,426.3 2659.5,425.8 2678.3,421.2 2697.0,422.0 2715.7,424.9 2734.4,425.7 2753.2,426.7 2771.9,425.1 2790.6,424.4 2809.3,422.3 2828.1,422.9 2846.8,417.5 2865.5,418.0 2884.2,419.9 2903.0,418.9 2921.7,421.4 2940.4,419.5 2959.1,415.8 2977.9,412.7 2996.6,405.2 3015.3,408.5 3034.0,411.0 3052.8,406.4 3071.5,402.8 3090.2,402.3 3108.9,401.1 3127.7,401.1 3146.4,402.9 3165.1,400.8 3183.8,395.9 3202.6,402.1 3221.3,406.2 3240.0,406.9" fill="none" stroke="#808080" stroke-opacity="0.3" stroke-width="4.17" stroke-linejoin="round"/>
<polyline points="450.0,697.1 468.7,692.4 487.4,689.6 506.2,693.3 524.9,697.1 543.6,704.0 562.3,707.4 581.1,704.0 599.8,704.6 618.5,711.1 637.2,706.8 656.0,713.9 674.7,709.4 693.4,709.4 712.1,716.0 730.9,724.6 749.6,723.9 768.3,727.1 787.0,725.0 805.8,731.4 824.5,738.9 843.2,738.3 861.9,742.1 880.7,736.1 899.4,729.7 918.1,727.1 936.8,725.0 955.6,724.6 974.3,723.9 993.0,719.6 1011.7,720.1 1030.5,722.9 1049.2,727.6 1067.9,724.6 1086.6,723.3 1105.4,717.5 1124.1,723.3 1142.8,728.9 1161.5,726.1 1180.3,730.8 1199.0,725.6 1217.7,722.2 1236.4,722.2 1255.2,725.6 1273.9,723.9 1292.6,718.6 1311.3,724.6 1330.1,732.9 1348.8,731.9 1367.5,735.7 1386.2,731.9 1405.0,725.0 1423.7,731.9 1442.4,733.6 1461.1,735.1 1479.9,735.1 1498.6,745.8 1517.3,745.4 1536.0,742.9 1554.8,745.4 1573.5,753.1 1592.2,756.4 1610.9,757.9 1629.7,763.9 1648.4,770.7 1667.1,770.7 1685.8,767.9 1704.6,762.1 1723.3,763.2 1742.0,757.9 1760.7,758.9 1779.5,761.5 1798.2,756.1 1816.9,758.3 1835.6,759.6 1854.4,763.6 1873.1,765.8 1891.8,762.8 1910.5,764.3 1929.3,762.1 1948.0,766.9 1966.7,764.9 1985.4,768.6 2004.2,769.1 2022.9,778.2 2041.6,780.8 2060.3,780.8 2079.1,778.9 2097.8,778.2 2116.5,782.5 2135.2,782.9 2154.0,788.9 2172.7,791.7 2191.4,795.4 2210.1,792.8 2228.9,795.4 2247.6,797.5 2266.3,796.4 2285.0,797.5 2303.8,800.7 2322.5,799.2 2341.2,801.4 2359.9,797.5 2378.7,795.8 2397.4,793.2 2416.1,795.4 2434.8,798.1 2453.6,792.8 2472.3,790.6 2491.0,791.7 2509.7,792.1 2528.5,797.5 2547.2,800.7 2565.9,797.5 2584.6,788.9 2603.4,790.0 2622.1,793.2 2640.8,801.4 2659.5,802.2 2678.3,799.6 2697.0,800.1 2715.7,801.4 2734.4,805.0 2753.2,802.4 2771.9,804.4 2790.6,809.3 2809.3,809.9 2828.1,812.5 2846.8,813.6 2865.5,811.4 2884.2,804.4 2903.0,798.6 2921.7,795.4 2940.4,792.1 2959.1,797.5 2977.9,797.1 2996.6,803.9 3015.3,810.4 3034.0,808.2 3052.8,808.5 3071.5,808.2 3090.2,810.4 3108.9,805.0 3127.7,805.0 3146.4,815.7 3165.1,811.4 3183.8,807.8 3202.6,817.2 3221.3,819.6 3240.0,820.0" fill="none" stroke="#808080" stroke-width="4.3" stroke-linejoin="round"/>
<polyline points="450.0,407.8 468.7,400.1 487.4,412.1 506.2,413.6 524.9,408.2 543.6,408.9 562.3,408.9 581.1,405.2 599.8,410.8 618.5,414.2 637.2,420.0 656.0,422.6 674.7,429.2 693.4,423.9 712.1,429.9 730.9,427.3 749.6,435.0 768.3,438.2 787.0,444.2 805.8,449.6 824.5,455.4 843.2,460.7 861.9,453.2 880.7,446.4 899.4,445.3 918.1,450.0 936.8,455.1 955.6,457.5 974.3,465.0 993.0,466.1 1011.7,465.4 1030.5,464.6 1049.2,456.9 1067.9,454.7 1086.6,453.9 1105.4,454.3 1124.1,460.3 1142.8,466.1 1161.5,460.7 1180.3,461.8 1199.0,456.4 1217.7,455.8 1236.4,448.9 1255.2,455.4 1273.9,447.9 1292.6,439.3 1311.3,436.7 1330.1,433.3 1348.8,430.1 1367.5,423.2 1386.2,430.3 1405.0,432.2 1423.7,431.1 1442.4,436.7 1461.1,439.7 1479.9,429.2 1498.6,434.6 1517.3,436.1 1536.0,433.9 1554.8,429.2 1573.5,435.0 1592.2,440.8 1610.9,442.1 1629.7,445.3 1648.4,449.4 1667.1,445.7 1685.8,438.2 1704.6,434.6 1723.3,440.4 1742.0,439.9 1760.7,439.7 1779.5,439.9 1798.2,441.0 1816.9,438.2 1835.6,435.4 1854.4,440.8 1873.1,439.3 1891.8,441.9 1910.5,439.7 1929.3,441.9 1948.0,432.9 1966.7,429.2 1985.4,429.6 2004.2,429.2 2022.9,430.1 2041.6,434.4 2060.3,427.9 2079.1,427.5 2097.8,424.7 2116.5,431.8 2135.2,428.1 2154.0,422.1 2172.7,423.9 2191.4,418.3 2210.1,416.4 2228.9,420.0 2247.6,425.4 2266.3,423.2 2285.0,421.5 2303.8,420.0 2322.5,418.3 2341.2,414.2 2359.9,412.5 2378.7,415.7 2397.4,423.2 2416.1,425.8 2434.8,431.8 2453.6,424.9 2472.3,424.9 2491.0,428.6 2509.7,435.4 2528.5,437.1 2547.2,436.5 2565.9,432.9 2584.6,429.6 2603.4,429.0 2622.1,430.7 2640.8,424.3 2659.5,423.9 2678.3,418.9 2697.0,420.0 2715.7,422.8 2734.4,423.9 2753.2,424.9 2771.9,423.2 2790.6,422.6 2809.3,420.4 2828.1,421.1 2846.8,415.7 2865.5,416.1 2884.2,417.4 2903.0,416.1 2921.7,418.5 2940.4,416.4 2959.1,412.9 2977.9,410.4 2996.6,403.5 3015.3,407.1 3034.0,409.9 3052.8,405.5 3071.5,402.2 3090.2,401.8 3108.9,400.3 3127.7,400.3 3146.4,402.2 3165.1,400.3 3183.8,395.8 3202.6,401.1 3221.3,405.0 3240.0,405.0" fill="none" stroke="#808080" stroke-width="4.3" stroke-linejoin="round"/>
<polyline points="450.0,636.7 468.7,636.7 487.4,634.6 506.2,621.7 524.9,626.4 543.6,631.8 562.3,633.3 581.1,628.1 599.8,625.4 618.5,627.1 637.2,625.4 656.0,623.2 674.7,626.4 693.4,628.6 712.1,624.9 730.9,623.2 749.6,621.7 768.3,616.8 787.0,615.3 805.8,616.8 824.5,615.7 843.2,610.8 861.9,611.4 880.7,612.5 899.4,610.8 918.1,612.5 936.8,607.1 955.6,612.9 974.3,618.3 993.0,620.6 1011.7,620.0 1030.5,616.1 1049.2,609.7 1067.9,615.3 1086.6,612.7 1105.4,615.3 1124.1,616.8 1142.8,617.9 1161.5,616.1 1180.3,612.7 1199.0,618.9 1217.7,623.2 1236.4,618.3 1255.2,624.3 1273.9,628.1 1292.6,624.3 1311.3,626.0 1330.1,621.7 1348.8,624.9 1367.5,622.1 1386.2,622.8 1405.0,619.6 1423.7,616.8 1442.4,612.5 1461.1,615.3 1479.9,616.8 1498.6,616.5 1517.3,611.1 1536.0,616.0 1554.8,617.1 1573.5,617.9 1592.2,626.1 1610.9,629.7 1629.7,630.4 1648.4,632.5 1667.1,633.6 1685.8,630.4 1704.6,624.4 1723.3,629.3 1742.0,624.4 1760.7,624.4 1779.5,631.4 1798.2,630.8 1816.9,630.4 1835.6,625.4 1854.4,629.7 1873.1,634.0 1891.8,643.6 1910.5,648.6 1929.3,660.4 1948.0,657.1 1966.7,667.9 1985.4,669.6 2004.2,671.3 2022.9,665.7 2041.6,666.4 2060.3,670.0 2079.1,670.6 2097.8,668.3 2116.5,674.3 2135.2,672.1 2154.0,674.3 2172.7,673.9 2191.4,674.3 2210.1,680.7 2228.9,681.8 2247.6,687.8 2266.3,689.9 2285.0,686.5 2303.8,684.6 2322.5,678.1 2341.2,673.9 2359.9,678.1 2378.7,685.0 2397.4,687.8 2416.1,688.2 2434.8,687.8 2453.6,686.7 2472.3,686.1 2491.0,671.1 2509.7,674.3 2528.5,667.9 2547.2,670.0 2565.9,673.6 2584.6,677.5 2603.4,673.2 2622.1,668.5 2640.8,670.6 2659.5,673.2 2678.3,675.4 2697.0,674.7 2715.7,669.4 2734.4,673.2 2753.2,676.9 2771.9,676.9 2790.6,670.6 2809.3,670.4 2828.1,673.2 2846.8,678.6 2865.5,687.6 2884.2,695.7 2903.0,697.2 2921.7,695.7 2940.4,681.4 2959.1,675.4 2977.9,674.3 2996.6,674.3 3015.3,674.3 3034.0,673.2 3052.8,682.9 3071.5,682.9 3090.2,686.1 3108.9,679.6 3127.7,679.0 3146.4,683.5 3165.1,686.1 3183.8,691.0 3202.6,696.1 3221.3,694.6 3240.0,686.1" fill="none" stroke="#000" stroke-width="8.33" stroke-linejoin="round"/>
<polyline points="450.0,683.9 468.7,673.6 487.4,668.2 506.2,657.9 524.9,663.3 543.6,656.9 562.3,656.9 581.1,650.0 599.8,657.9 618.5,651.1 637.2,650.0 656.0,656.4 674.7,660.7 693.4,662.9 712.1,662.4 730.9,666.1 749.6,659.0 768.3,651.1 787.0,643.6 805.8,646.4 824.5,650.0 843.2,645.7 861.9,642.5 880.7,637.6 899.4,634.4 918.1,621.1 936.8,616.4 955.6,617.9 974.3,607.9 993.0,603.9 1011.7,609.9 1030.5,612.5 1049.2,615.7 1067.9,618.3 1086.6,620.0 1105.4,620.0 1124.1,619.6 1142.8,622.6 1161.5,614.6 1180.3,619.4 1199.0,611.4 1217.7,606.5 1236.4,601.8 1255.2,599.0 1273.9,599.0 1292.6,600.1 1311.3,608.2 1330.1,616.8 1348.8,612.5 1367.5,618.9 1386.2,614.6 1405.0,616.8 1423.7,619.6 1442.4,622.1 1461.1,624.3 1479.9,626.0 1498.6,626.2 1517.3,622.9 1536.0,632.5 1554.8,633.6 1573.5,629.3 1592.2,636.1 1610.9,634.6 1629.7,642.1 1648.4,625.6" fill="none" stroke="#008000" stroke-width="12.5" stroke-linejoin="round" stroke-linecap="square"/>
</g>
<line x1="618.52" y1="1837.50" x2="618.52" y2="210.00" stroke="#000" stroke-width="2.1" stroke-dasharray="4.17 12.5"/>
<line x1="993.02" y1="1837.50" x2="993.02" y2="210.00" stroke="#000" stroke-width="2.1" stroke-dasharray="4.17 12.5"/>
<line x1="1367.52" y1="1837.50" x2="1367.52" y2="210.00" stroke="#000" stroke-width="2.1" stroke-dasharray="4.17 12.5"/>
<line x1="1742.01" y1="1837.50" x2="1742.01" y2="210.00" stroke="#000" stroke-width="2.1" stroke-dasharray="4.17 12.5"/>
<line x1="2116.51" y1="1837.50" x2="2116.51" y2="210.00" stroke="#000" stroke-width="2.1" stroke-dasharray="4.17 12.5"/>
<line x1="2491.01" y1="1837.50" x2="2491.01" y2="210.00" stroke="#000" stroke-width="2.1" stroke-dasharray="4.17 12.5"/>
<line x1="2865.50" y1="1837.50" x2="2865.50" y2="210.00" stroke="#000" stroke-width="2.1" stroke-dasharray="4.17 12.5"/>
<line x1="450.00" y1="1566.25" x2="3240.00" y2="1566.25" stroke="#000" stroke-width="2.1" stroke-dasharray="4.17 12.5"/>
<line x1="450.00" y1="1295.00" x2="3240.00" y2="1295.00" stroke="#000" stroke-width="2.1" stroke-dasharray="4.17 12.5"/>
<line x1="450.00" y1="1023.75" x2="3240.00" y2="1023.75" stroke="#000" stroke-width="2.1" stroke-dasharray="4.17 12.5"/>
<line x1="450.00" y1="752.50" x2="3240.00" y2="752.50" stroke="#000" stroke-width="2.1" stroke-dasharray="4.17 12.5"/>
<line x1="450.00" y1="481.25" x2="3240.00" y2="481.25" stroke="#000" stroke-width="2.1" stroke-dasharray="4.17 12.5"/>
<line x1="618.52" y1="1837.50" x2="618.52" y2="1820.83" stroke="#000" stroke-width="2.1"/>
<line x1="618.52" y1="210.00" x2="618.52" y2="226.67" stroke="#000" stroke-width="2.1"/>
<text x="618.52" y="1896" font-size="58.33" text-anchor="middle">1960</text>
<line x1="993.02" y1="1837.50" x2="993.02" y2="1820.83" stroke="#000" stroke-width="2.1"/>
<line x1="993.02" y1="210.00" x2="993.02" y2="226.67" stroke="#000" stroke-width="2.1"/>
<text x="993.02" y="1896" font-size="58.33" text-anchor="middle">1980</text>
<line x1="1367.52" y1="1837.50" x2="1367.52" y2="1820.83" stroke="#000" stroke-width="2.1"/>
<line x1="1367.52" y1="210.00" x2="1367.52" y2="226.67" stroke="#000" stroke-width="2.1"/>
<text x="1367.52" y="1896" font-size="58.33" text-anchor="middle">2000</text>
<line x1="1742.01" y1="1837.50" x2="1742.01" y2="1820.83" stroke="#000" stroke-width="2.1"/>
<line x1="1742.01" y1="210.00" x2="1742.01" y2="226.67" stroke="#000" stroke-width="2.1"/>
<text x="1742.01" y="1896" font-size="58.33" text-anchor="middle">2020</text>
<line x1="2116.51" y1="1837.50" x2="2116.51" y2="1820.83" stroke="#000" stroke-width="2.1"/>
<line x1="2116.51" y1="210.00" x2="2116.51" y2="226.67" stroke="#000" stroke-width="2.1"/>
<text x="2116.51" y="1896" font-size="58.33" text-anchor="middle">2040</text>
<line x1="2491.01" y1="1837.50" x2="2491.01" y2="1820.83" stroke="#000" stroke-width="2.1"/>
<line x1="2491.01" y1="210.00" x2="2491.01" y2="226.67" stroke="#000" stroke-width="2.1"/>
<text x="2491.01" y="1896" font-size="58.33" text-anchor="middle">2060</text>
<line x1="2865.50" y1="1837.50" x2="2865.50" y2="1820.83" stroke="#000" stroke-width="2.1"/>
<line x1="2865.50" y1="210.00" x2="2865.50" y2="226.67" stroke="#000" stroke-width="2.1"/>
<text x="2865.50" y="1896" font-size="58.33" text-anchor="middle">2080</text>
<line x1="3240.00" y1="1837.50" x2="3240.00" y2="1820.83" stroke="#000" stroke-width="2.1"/>
<line x1="3240.00" y1="210.00" x2="3240.00" y2="226.67" stroke="#000" stroke-width="2.1"/>
<text x="3240.00" y="1896" font-size="58.33" text-anchor="middle">2100</text>
<line x1="450.00" y1="1837.50" x2="466.67" y2="1837.50" stroke="#000" stroke-width="2.1"/>
<line x1="3240.00" y1="1837.50" x2="3223.33" y2="1837.50" stroke="#000" stroke-width="2.1"/>
<text x="434.5" y="1852.50" font-size="58.33" text-anchor="end">0</text>
<line x1="450.00" y1="1566.25" x2="466.67" y2="1566.25" stroke="#000" stroke-width="2.1"/>
<line x1="3240.00" y1="1566.25" x2="3223.33" y2="1566.25" stroke="#000" stroke-width="2.1"/>
<text x="434.5" y="1581.25" font-size="58.33" text-anchor="end">50</text>
<line x1="450.00" y1="1295.00" x2="466.67" y2="1295.00" stroke="#000" stroke-width="2.1"/>
<line x1="3240.00" y1="1295.00" x2="3223.33" y2="1295.00" stroke="#000" stroke-width="2.1"/>
<text x="434.5" y="1310.00" font-size="58.33" text-anchor="end">100</text>
<line x1="450.00" y1="1023.75" x2="466.67" y2="1023.75" stroke="#000" stroke-width="2.1"/>
<line x1="3240.00" y1="1023.75" x2="3223.33" y2="1023.75" stroke="#000" stroke-width="2.1"/>
<text x="434.5" y="1038.75" font-size="58.33" text-anchor="end">150</text>
<line x1="450.00" y1="752.50" x2="466.67" y2="752.50" stroke="#000" stroke-width="2.1"/>
<line x1="3240.00" y1="752.50" x2="3223.33" y2="752.50" stroke="#000" stroke-width="2.1"/>
<text x="434.5" y="767.50" font-size="58.33" text-anchor="end">200</text>
<line x1="450.00" y1="481.25" x2="466.67" y2="481.25" stroke="#000" stroke-width="2.1"/>
<line x1="3240.00" y1="481.25" x2="3223.33" y2="481.25" stroke="#000" stroke-width="2.1"/>
<text x="434.5" y="496.25" font-size="58.33" text-anchor="end">250</text>
<line x1="450.00" y1="210.00" x2="466.67" y2="210.00" stroke="#000" stroke-width="2.1"/>
<line x1="3240.00" y1="210.00" x2="3223.33" y2="210.00" stroke="#000" stroke-width="2.1"/>
<text x="434.5" y="225.00" font-size="58.33" text-anchor="end">300</text>
<rect x="450.0" y="210.0" width="2790.0" height="1627.5" fill="none" stroke="#000" stroke-width="4.17"/>
<text x="1845" y="189.5" font-size="70.2" text-anchor="middle">Kolka.Jūl</text>
<text x="1845" y="1967.7" font-size="58.33" text-anchor="middle">Gads</text>
<g transform="translate(306.3,0) rotate(-90)">
<text x="-1586.6" y="0" font-size="58.33">Saules radiācija uz horizontālas virsmas,</text>
<path d="M-611.4 0.17 -614.11 -37.01Q-614.31 -37.86 -615.39 -38.07Q-616.47 -38.29 -618.07 -38.29Q-618.64 -38.29 -618.64 -39.06Q-618.44 -39.8 -618.33 -40.07Q-618.21 -40.34 -617.67 -40.34H-603.77Q-603.2 -40.34 -603.2 -39.57Q-603.43 -38.29 -603.94 -38.29Q-608.61 -38.29 -608.9 -36.66L-606.82 -7.21L-592.23 -32.62L-592.52 -37.01Q-592.72 -37.86 -593.8 -38.07Q-594.88 -38.29 -596.48 -38.29Q-597.08 -38.29 -597.08 -39.06Q-596.88 -39.8 -596.76 -40.07Q-596.65 -40.34 -596.08 -40.34H-582.18Q-581.61 -40.34 -581.61 -39.57Q-581.64 -39.43 -581.72 -39.08Q-581.81 -38.74 -581.95 -38.51Q-582.09 -38.29 -582.38 -38.29Q-587.08 -38.29 -587.34 -36.66V-36.24L-585.23 -7.21L-569.36 -34.9Q-569.02 -35.52 -569.02 -36.12Q-569.02 -37.32 -570.19 -37.8Q-571.36 -38.29 -572.81 -38.29Q-573.38 -38.29 -573.38 -39.06Q-573.27 -39.51 -573.19 -39.77Q-573.12 -40.02 -572.94 -40.18Q-572.75 -40.34 -572.38 -40.34H-561.25Q-560.68 -40.34 -560.68 -39.57Q-560.7 -39.43 -560.79 -39.07Q-560.88 -38.71 -561.03 -38.5Q-561.19 -38.29 -561.42 -38.29Q-565.57 -38.29 -567.74 -34.5Q-567.91 -34.33 -567.91 -34.33L-587.68 0.17Q-587.99 0.79 -588.67 0.79H-589.13Q-589.84 0.79 -589.84 0.17L-592.06 -29.88L-609.21 0.17Q-609.64 0.79 -610.24 0.79H-610.72Q-611.4 0.79 -611.4 0.17Z" fill="#000"/>
<path d="M-563.47 12.93Q-563.47 12.75 -563.41 12.7L-543.13 -43.53Q-543.02 -43.87 -542.73 -44.05Q-542.45 -44.24 -542.08 -44.24Q-541.56 -44.24 -541.24 -43.93Q-540.91 -43.61 -540.91 -43.07V-42.84L-561.19 13.38Q-561.53 14.09 -562.3 14.09Q-562.78 14.09 -563.12 13.75Q-563.47 13.41 -563.47 12.93Z" fill="#000"/>
<path d="M-533.07 -1.49Q-533.07 -1.83 -533.02 -2L-528.66 -19.4Q-528.23 -21.03 -528.23 -22.25Q-528.23 -24.76 -529.94 -24.76Q-531.76 -24.76 -532.65 -22.58Q-533.53 -20.4 -534.36 -17.07Q-534.36 -16.9 -534.53 -16.8Q-534.7 -16.7 -534.84 -16.7H-535.52Q-535.72 -16.7 -535.87 -16.91Q-536.01 -17.12 -536.01 -17.29Q-535.38 -19.83 -534.8 -21.6Q-534.21 -23.36 -532.98 -24.81Q-531.74 -26.27 -529.88 -26.27Q-527.69 -26.27 -526.01 -24.89Q-524.33 -23.5 -524.33 -21.37Q-522.59 -23.65 -520.26 -24.96Q-517.92 -26.27 -515.3 -26.27Q-512.54 -26.27 -510.53 -24.86Q-508.52 -23.45 -508.52 -20.86Q-506.73 -23.39 -504.32 -24.83Q-501.91 -26.27 -499.07 -26.27Q-496.05 -26.27 -494.21 -24.63Q-492.37 -22.99 -492.37 -19.97Q-492.37 -17.58 -493.44 -14.19Q-494.51 -10.8 -496.1 -6.61Q-496.93 -4.59 -496.93 -3.11Q-496.93 -1.37 -495.56 -1.37Q-493.28 -1.37 -491.77 -3.82Q-490.26 -6.27 -489.64 -9.06Q-489.47 -9.41 -489.15 -9.41H-488.47Q-488.24 -9.41 -488.09 -9.25Q-487.93 -9.09 -487.93 -8.89Q-487.93 -8.84 -487.99 -8.72Q-488.78 -5.42 -490.76 -2.63Q-492.74 0.17 -495.71 0.17Q-497.76 0.17 -499.21 -1.24Q-500.66 -2.65 -500.66 -4.68Q-500.66 -5.7 -500.18 -6.96Q-498.52 -11.34 -497.43 -14.79Q-496.33 -18.23 -496.33 -20.86Q-496.33 -22.48 -496.99 -23.62Q-497.64 -24.76 -499.18 -24.76Q-502.37 -24.76 -504.71 -22.81Q-507.04 -20.86 -508.75 -17.64Q-508.86 -17.07 -508.92 -16.75L-512.68 -1.77Q-512.88 -0.97 -513.58 -0.4Q-514.28 0.17 -515.13 0.17Q-515.81 0.17 -516.34 -0.29Q-516.87 -0.75 -516.87 -1.49Q-516.87 -1.83 -516.81 -2L-513.08 -16.87Q-512.48 -19.26 -512.48 -20.86Q-512.48 -22.48 -513.15 -23.62Q-513.82 -24.76 -515.42 -24.76Q-517.55 -24.76 -519.35 -23.82Q-521.14 -22.88 -522.48 -21.33Q-523.82 -19.77 -524.93 -17.64L-528.89 -1.77Q-529.09 -0.97 -529.78 -0.4Q-530.48 0.17 -531.34 0.17Q-532.05 0.17 -532.56 -0.29Q-533.07 -0.75 -533.07 -1.49Z" fill="#000"/>
<path d="M-480.65 -22.81V-23.91Q-480.65 -24.01 -480.57 -24.13L-474.23 -31.14Q-472.79 -32.7 -471.9 -33.76Q-471 -34.81 -470.12 -36.19Q-469.24 -37.56 -468.74 -38.99Q-468.23 -40.42 -468.23 -42.01Q-468.23 -43.69 -468.85 -45.21Q-469.46 -46.74 -470.69 -47.65Q-471.92 -48.57 -473.65 -48.57Q-475.43 -48.57 -476.84 -47.5Q-478.26 -46.44 -478.83 -44.74Q-478.68 -44.78 -478.4 -44.78Q-477.48 -44.78 -476.83 -44.16Q-476.18 -43.55 -476.18 -42.57Q-476.18 -41.63 -476.83 -40.98Q-477.48 -40.34 -478.4 -40.34Q-479.35 -40.34 -480 -41Q-480.65 -41.67 -480.65 -42.57Q-480.65 -44.1 -480.07 -45.45Q-479.49 -46.8 -478.41 -47.84Q-477.32 -48.89 -475.95 -49.45Q-474.59 -50.01 -473.05 -50.01Q-470.72 -50.01 -468.71 -49.02Q-466.69 -48.03 -465.52 -46.23Q-464.34 -44.42 -464.34 -42.01Q-464.34 -40.24 -465.12 -38.64Q-465.9 -37.05 -467.11 -35.74Q-468.33 -34.43 -470.22 -32.78Q-472.12 -31.12 -472.71 -30.57L-477.34 -26.12H-473.41Q-470.52 -26.12 -468.58 -26.17Q-466.63 -26.22 -466.51 -26.32Q-466.03 -26.84 -465.54 -30.09H-464.34L-465.5 -22.81Z" fill="#000"/>
</g>
<rect x="485.6" y="1386" width="589.4" height="416.7" fill="#fff" stroke="#000" stroke-width="4.17"/>
<line x1="534" y1="1438.0" x2="632" y2="1438.0" stroke="#808080" stroke-width="4.17" stroke-linecap="square"/>
<line x1="534" y1="1537.0" x2="632" y2="1537.0" stroke="#808080" stroke-width="4.17" stroke-linecap="square"/>
<line x1="534" y1="1636.0" x2="632" y2="1636.0" stroke="#000" stroke-width="8.33" stroke-linecap="square"/>
<line x1="534" y1="1735.3" x2="632" y2="1735.3" stroke="#008000" stroke-width="12.5" stroke-linecap="square"/>
<text x="708.5" y="1462.0" font-size="70">13%</text>
<text x="708.5" y="1561.0" font-size="70">87%</text>
<text x="708.5" y="1661.0" font-size="70">Mediāna</text>
<text x="708.5" y="1759.0" font-size="70">Novērojumi</text>
</svg></body></html>
